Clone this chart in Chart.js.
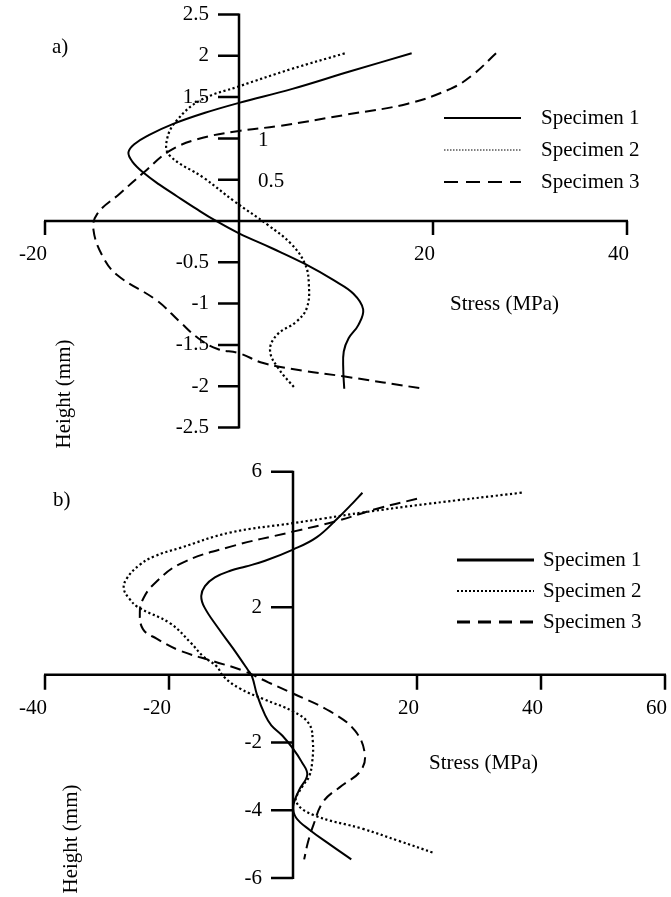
<!DOCTYPE html>
<html>
<head>
<meta charset="utf-8">
<script src="https://cdn.jsdelivr.net/npm/chart.js@4.4.1/dist/chart.umd.min.js"></script>
<style>
  body { margin: 0; background: #fff; }
  #wrap { position: relative; width: 671px; height: 897px; overflow: hidden; }
  canvas { position: absolute; left: 0; }
  #chartA { top: 0; }
  #chartB { top: 440px; }
</style>
</head>
<body>
<div id="wrap">
  <canvas id="chartA" width="671" height="465"></canvas>
  <canvas id="chartB" width="671" height="457"></canvas>
</div>
<script>
// ---- panel a) data: stress (MPa) vs height (mm) ----
const aSpec1Stress = [17.8, 11.4, 5.5, 0, -3.5, -6.9, -9.3, -10.8, -11.4, -11.0, -9.8, -8.2, -6.4, -4.3, -2.5, 0, 3.4, 6.8, 9.8, 11.8, 12.8, 12.3, 11.3, 10.8, 10.75, 10.85];
const aSpec1Height = [2.03, 1.81, 1.6, 1.43, 1.31, 1.17, 1.04, 0.93, 0.83, 0.72, 0.58, 0.44, 0.3, 0.14, 0.01, -0.15, -0.33, -0.52, -0.72, -0.88, -1.07, -1.26, -1.42, -1.58, -1.8, -2.03];

const aSpec2Stress = [10.9, 5.4, 0, -4.0, -6.4, -7.4, -7.2, -3.6, -0.5, 3.0, 5.4, 6.8, 7.2, 7.0, 5.9, 3.9, 3.2, 4.1, 5.8];
const aSpec2Height = [2.03, 1.84, 1.63, 1.46, 1.22, 1.0, 0.8, 0.52, 0.24, -0.05, -0.28, -0.52, -0.76, -1.05, -1.22, -1.38, -1.57, -1.79, -2.03];

const aSpec3Stress = [26.5, 24.0, 21.8, 17.4, 11.2, 4.1, 0, -4.3, -7.2, -9.7, -12.3, -14.6, -15.0, -14.0, -12.5, -8.5, -6.1, -4.2, -2.2, 0, 2.5, 6.5, 10.75, 19.0];
const aSpec3Height = [2.03, 1.76, 1.6, 1.42, 1.29, 1.15, 1.09, 0.99, 0.845, 0.6, 0.33, 0.09, -0.11, -0.44, -0.66, -0.96, -1.22, -1.42, -1.55, -1.6, -1.72, -1.81, -1.88, -2.03];

const aXTicks = [-20, 20, 40];
const aYTicks = [2.5, 2, 1.5, 1, 0.5, -0.5, -1, -1.5, -2, -2.5];
const aYTicksRightSide = [1, 0.5];

// ---- panel b) data ----
const bSpec1Stress = [11.2, 9.2, 7.3, 3.8, 0, -4.5, -7.6, -10.0, -12.6, -14.2, -14.8, -14.3, -12.1, -9.7, -7.3, -6.6, -5.8, -4.5, -3.5, -1.7, 0, 1.4, 2.3, 1.0, 0.05, 0.5, 2.7, 6.1, 9.4];
const bSpec1Height = [5.38, 4.99, 4.64, 4.06, 3.7, 3.37, 3.2, 3.08, 2.88, 2.62, 2.33, 2.0, 1.39, 0.79, 0.15, -0.05, -0.59, -1.19, -1.49, -1.8, -2.18, -2.57, -2.95, -3.4, -3.88, -4.22, -4.58, -5.03, -5.45];

const bSpec2Stress = [36.9, 21.7, 11.4, 5.0, 0, -10.2, -18.2, -22.4, -24.8, -26.8, -27.3, -26.4, -25.0, -19.8, -16.5, -14.5, -12.3, -11.2, -8.6, -4.7, 0, 2.6, 3.2, 3.1, 2.6, 1.5, 0.5, 3.3, 11.3, 17.0, 22.9];
const bSpec2Height = [5.38, 5.05, 4.8, 4.62, 4.48, 4.2, 3.75, 3.5, 3.24, 2.85, 2.55, 2.25, 2.0, 1.52, 0.95, 0.55, 0.25, -0.05, -0.4, -0.72, -1.08, -1.45, -1.98, -2.57, -3.0, -3.3, -3.74, -4.14, -4.55, -4.9, -5.27];

const bSpec3Stress = [20.0, 13.4, 7.2, 0, -10.2, -18.2, -22.5, -24.1, -24.7, -24.2, -22.0, -18.3, -12.8, -8.0, -4.0, 0, 6.0, 10.0, 11.6, 10.8, 7.9, 4.9, 3.3, 2.4, 1.8];
const bSpec3Height = [5.2, 4.9, 4.55, 4.23, 3.78, 3.28, 2.67, 2.27, 1.88, 1.35, 1.07, 0.72, 0.4, 0.12, -0.22, -0.55, -1.08, -1.65, -2.36, -2.86, -3.27, -3.74, -4.43, -4.95, -5.45];

const bXTicks = [-40, -20, 20, 40, 60];
const bYTicks = [6, 2, -2, -4, -6];

const seriesNames = ["Specimen 1", "Specimen 2", "Specimen 3"];

const FONT = "'Liberation Serif', 'Times New Roman', serif";

function toPoints(xs, ys) {
  return xs.map((v, i) => ({ x: v, y: ys[i] }));
}

function lineSet(label, xs, ys, dash, width) {
  return {
    label: label,
    data: toPoints(xs, ys),
    showLine: true,
    borderColor: "#000",
    borderWidth: width,
    borderDash: dash,
    pointRadius: 0,
    tension: 0.4,
    fill: false,
    clip: false,
  };
}

function drawText(ctx, text, x, y, align) {
  ctx.textAlign = align;
  ctx.fillText(text, x, y);
}

const crossAxes = {
  id: "crossAxes",
  beforeDatasetsDraw(chart, args, o) {
    const { ctx } = chart;
    const xs = chart.scales.x, ys = chart.scales.y;
    const x0 = xs.getPixelForValue(0);
    const y0 = ys.getPixelForValue(0);

    ctx.save();
    ctx.strokeStyle = "#000";
    ctx.lineWidth = o.axisWidth;
    ctx.lineCap = "butt";
    ctx.beginPath();
    ctx.moveTo(xs.getPixelForValue(xs.min) - 1, y0);
    ctx.lineTo(xs.getPixelForValue(xs.max) + 1, y0);
    o.xTicks.forEach((v) => {
      const px = xs.getPixelForValue(v);
      ctx.moveTo(px, y0);
      ctx.lineTo(px, y0 + o.xTickLen);
    });
    ctx.moveTo(x0, ys.getPixelForValue(ys.max) - 1);
    ctx.lineTo(x0, ys.getPixelForValue(ys.min) + 1);
    o.yTicks.forEach((v) => {
      const py = ys.getPixelForValue(v);
      ctx.moveTo(x0, py);
      ctx.lineTo(x0 - o.yTickLen, py);
    });
    ctx.stroke();

    ctx.fillStyle = "#000";
    ctx.font = o.fontSize + "px " + FONT;
    ctx.textBaseline = "middle";
    o.xTicks.forEach((v) => {
      drawText(ctx, String(v), xs.getPixelForValue(v) + 2, y0 + o.xLabelGap, "right");
    });
    o.yTicks.forEach((v) => {
      const py = ys.getPixelForValue(v);
      if (o.rightSide.includes(v)) {
        drawText(ctx, String(v), x0 + 19, py + 2, "left");
      } else {
        drawText(ctx, String(v), x0 - o.yTickLen - 9, py, "right");
      }
    });

    // axis titles and panel tag
    drawText(ctx, o.tag, o.tagPos[0], o.tagPos[1], "left");
    drawText(ctx, "Stress (MPa)", o.xTitlePos[0], o.xTitlePos[1], "left");
    ctx.save();
    ctx.translate(o.yTitlePos[0], o.yTitlePos[1]);
    ctx.rotate(-Math.PI / 2);
    drawText(ctx, "Height (mm)", 0, 0, "center");
    ctx.restore();

    // legend
    const lg = o.legend;
    chart.data.datasets.forEach((ds, i) => {
      const ly = lg.y + i * lg.step;
      ctx.beginPath();
      ctx.lineWidth = lg.widths[i];
      ctx.setLineDash(lg.dashes[i]);
      ctx.moveTo(lg.x1, ly);
      ctx.lineTo(lg.x2, ly);
      ctx.stroke();
      ctx.setLineDash([]);
      drawText(ctx, ds.label, lg.textX, ly, "left");
    });
    ctx.restore();
  },
};

function makeChart(id, datasets, scales, padding, axOpts) {
  return new Chart(document.getElementById(id), {
    type: "scatter",
    data: { datasets: datasets },
    options: {
      responsive: false,
      animation: false,
      devicePixelRatio: 1,
      layout: { padding: padding },
      scales: {
        x: { type: "linear", min: scales[0], max: scales[1], display: false },
        y: { type: "linear", min: scales[2], max: scales[3], display: false },
      },
      plugins: {
        legend: { display: false },
        tooltip: { enabled: false },
        crossAxes: axOpts,
      },
    },
    plugins: [crossAxes],
  });
}

const dotted = [2.2, 2.6];
const dashed = [11, 6];

makeChart(
  "chartA",
  [
    lineSet(seriesNames[0], aSpec1Stress, aSpec1Height, [], 2),
    lineSet(seriesNames[1], aSpec2Stress, aSpec2Height, dotted, 2.2),
    lineSet(seriesNames[2], aSpec3Stress, aSpec3Height, dashed, 2),
  ],
  [-20, 40, -2.5, 2.5],
  { left: 45, right: 44, top: 14.5, bottom: 37.5 },
  {
    axisWidth: 2.5,
    xTicks: aXTicks,
    yTicks: aYTicks,
    rightSide: aYTicksRightSide,
    xTickLen: 14,
    yTickLen: 21,
    xLabelGap: 33,
    fontSize: 21,
    tag: "a)",
    tagPos: [52, 47],
    xTitlePos: [450, 304],
    yTitlePos: [64, 394],
    legend: {
      x1: 444, x2: 521, textX: 541, y: 118, step: 32,
      widths: [2, 1, 2],
      dashes: [[], [1.5, 1.5], [14, 8]],
    },
  }
);

makeChart(
  "chartB",
  [
    lineSet(seriesNames[0], bSpec1Stress, bSpec1Height, [], 2),
    lineSet(seriesNames[1], bSpec2Stress, bSpec2Height, dotted, 2.2),
    lineSet(seriesNames[2], bSpec3Stress, bSpec3Height, dashed, 2),
  ],
  [-40, 60, -6, 6],
  { left: 45, right: 6, top: 31.7, bottom: 19 },
  {
    axisWidth: 2.5,
    xTicks: bXTicks,
    yTicks: bYTicks,
    rightSide: [],
    xTickLen: 15,
    yTickLen: 22,
    xLabelGap: 34,
    fontSize: 21,
    tag: "b)",
    tagPos: [53, 60],
    xTitlePos: [429, 323],
    yTitlePos: [71, 399],
    legend: {
      x1: 457, x2: 534, textX: 543, y: 120, step: 31,
      widths: [3, 2, 3],
      dashes: [[], [2, 2], [13, 8]],
    },
  }
);
</script>
</body>
</html>
